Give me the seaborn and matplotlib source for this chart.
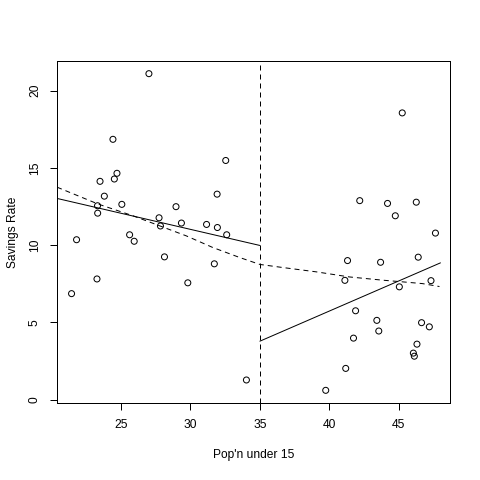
import matplotlib
matplotlib.use("Agg")
import matplotlib.pyplot as plt
import seaborn as sns
import numpy as np
import pandas as pd

# LifeCycleSavings: % population under 15 vs savings rate
pop15 = [29.35, 23.32, 23.80, 41.89, 42.19, 31.72, 39.74, 44.75, 46.64, 47.64,
         24.42, 46.31, 27.84, 25.06, 23.31, 25.62, 46.05, 47.32, 34.03, 41.31,
         31.16, 24.52, 27.01, 41.74, 21.80, 32.54, 25.95, 24.71, 32.61, 45.04,
         43.56, 41.18, 44.19, 46.26, 28.96, 31.94, 31.92, 27.74, 21.44, 23.49,
         43.42, 46.12, 23.27, 29.81, 46.40, 45.25, 41.12, 28.13, 43.69, 47.20]
sr = [11.43, 12.07, 13.17, 5.75, 12.88, 8.79, 0.60, 11.90, 4.98, 10.78,
      16.85, 3.59, 11.24, 12.64, 12.55, 10.67, 3.01, 7.70, 1.27, 9.00,
      11.34, 14.28, 21.10, 3.98, 10.35, 15.48, 10.25, 14.65, 10.67, 7.30,
      4.44, 2.02, 12.70, 12.78, 12.49, 11.14, 13.30, 11.77, 6.86, 14.13,
      5.13, 2.81, 7.81, 7.56, 9.22, 18.56, 7.72, 9.24, 8.89, 4.71]

# smooth curve (dashed)
smooth_x = [20.4, 23.35, 25.86, 27.78, 29.7, 31.6, 33.54, 35.0, 36.65, 39.06,
            41.45, 43.85, 45.05, 46.7, 47.93]
smooth_y = [13.75, 12.66, 11.9, 11.25, 10.6, 9.85, 9.2, 8.75, 8.55, 8.27,
            7.94, 7.73, 7.64, 7.51, 7.32]

cut = 35
xticks = [25, 30, 35, 40, 45]
yticks = [0, 5, 10, 15, 20]

df = pd.DataFrame({"pop15": pop15, "sr": sr})

sns.set_style("ticks")
plt.rcParams["font.family"] = ["Liberation Sans", "DejaVu Sans"]
plt.rcParams["text.color"] = "black"
plt.rcParams["axes.labelcolor"] = "black"
plt.rcParams["xtick.color"] = "black"
plt.rcParams["ytick.color"] = "black"

fig = plt.figure(figsize=(480 / 72, 480 / 72), dpi=72)
ax = fig.add_axes([57 / 480, 1 - 403 / 480, 393 / 480, 342 / 480])

sns.scatterplot(data=df, x="pop15", y="sr", ax=ax, marker="o", s=36,
                facecolor="none", edgecolor="black", linewidth=1)

# separate linear fits either side of the break
lo = df[df.pop15 < cut]
hi = df[df.pop15 >= cut]
b1 = np.polyfit(lo.pop15, lo.sr, 1)
b2 = np.polyfit(hi.pop15, hi.sr, 1)
x1 = np.array([20.0, cut])
x2 = np.array([cut, 48.0])
sns.lineplot(x=x1, y=np.polyval(b1, x1), ax=ax, color="black", lw=1)
sns.lineplot(x=x2, y=np.polyval(b2, x2), ax=ax, color="black", lw=1)

sns.lineplot(x=smooth_x, y=smooth_y, ax=ax, color="black", lw=1,
             dashes=False, linestyle=(0, (5, 4)))
ax.axvline(cut, color="black", lw=1, linestyle=(0, (5, 4)))

rng_x = max(pop15) - min(pop15)
rng_y = max(sr) - min(sr)
ax.set_xlim(min(pop15) - 0.04 * rng_x, max(pop15) + 0.04 * rng_x)
ax.set_ylim(min(sr) - 0.04 * rng_y, max(sr) + 0.04 * rng_y)
ax.set_xticks(xticks)
ax.set_yticks(yticks)
ax.tick_params(direction="out", length=7, width=1, labelsize=12, pad=9,
               color="black", labelcolor="black")
ax.tick_params(axis="y", labelrotation=90)
for lab in ax.get_yticklabels():
    lab.set_va("center")
ax.set_xlabel("Pop'n under 15", fontsize=12, labelpad=18)
ax.set_ylabel("Savings Rate", fontsize=12, labelpad=10)
for sp in ax.spines.values():
    sp.set_visible(True)
    sp.set_linewidth(1)
    sp.set_color("black")

fig.savefig("out.png", dpi=72)
